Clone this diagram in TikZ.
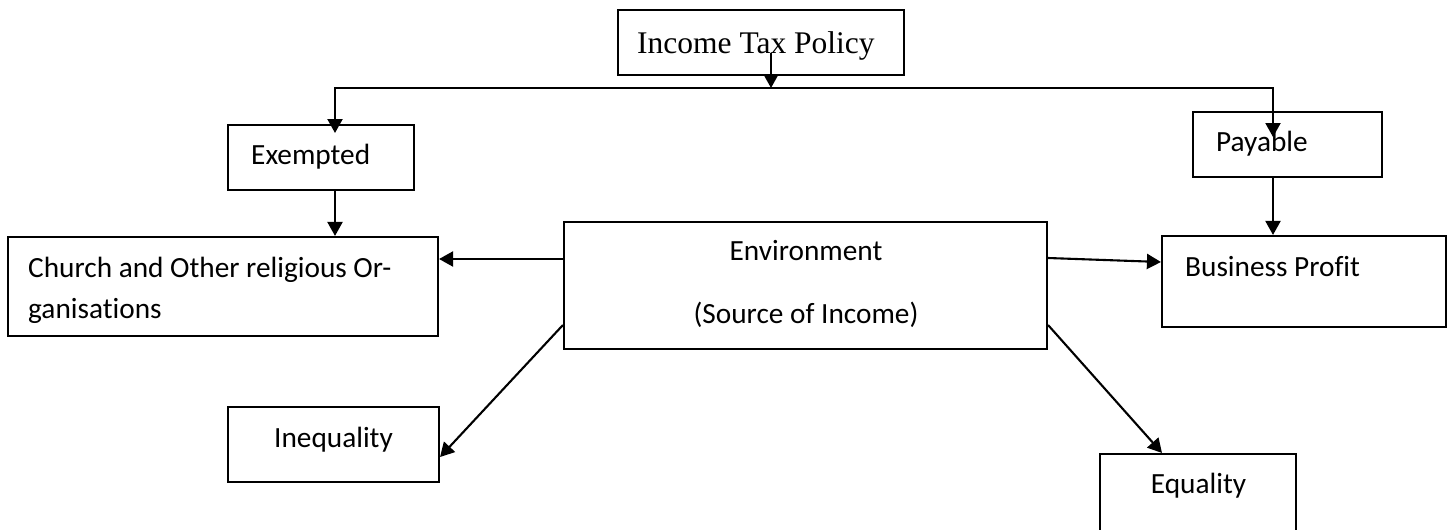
\documentclass[tikz,border=0pt]{standalone}
\usepackage{fontspec}
\setmainfont{Carlito}[Ligatures=NoCommon]
\newfontfamily\serifface{Liberation Serif}
\usetikzlibrary{arrows.meta}

\begin{document}
\begin{tikzpicture}[x=1pt,y=-1pt,
    box/.style={draw,line width=2.1pt,inner sep=0pt},
    txt/.style={inner sep=0pt,font=\fontsize{29.3pt}{35pt}\selectfont},
    arr/.style={line width=2.1pt,-{Triangle[length=14pt,width=15pt]}}]
      \useasboundingbox (0,0) rectangle (1449,530);
      \clip (0,0) rectangle (1449,530);
      %boxes
      \node[box,minimum width=286pt,minimum height=65pt] (tax) at (761,42.5) {};
      \node[box,minimum width=186pt,minimum height=65pt] (exempt) at (321,157.5) {};
      \node[box,minimum width=189pt,minimum height=65pt] (payable) at (1287.5,144.5) {};
      \node[box,minimum width=430pt,minimum height=99pt] (church) at (223,286.5) {};
      \node[box,minimum width=483pt,minimum height=127pt] (env) at (805.5,285.5) {};
      \node[box,minimum width=284pt,minimum height=91pt] (business) at (1304,281.5) {};
      \node[box,minimum width=211pt,minimum height=75pt] (inequal) at (333.5,444.5) {};
      \node[box,minimum width=196pt,minimum height=106pt] (equal) at (1198,507) {};
      %texts
      \node[txt,anchor=base west,font=\serifface\fontsize{31.5pt}{38pt}\selectfont] (taxtext) at (637,53) {Income Tax Policy};
      \node[txt,anchor=base west] (exempttext) at (251,164) {Exempted};
      \node[txt,anchor=base west] (payabletext) at (1216,151) {Payable};
      \node[txt,anchor=base west] (churchtexta) at (28,277) {Church and Other religious Or-};
      \node[txt,anchor=base west] (churchtextb) at (28,318) {ganisations};
      \node[txt,anchor=base] (envtexta) at (806,260) {Environment};
      \node[txt,anchor=base] (envtextb) at (806,323) {(Source of Income)};
      \node[txt,anchor=base west] (businesstext) at (1185,276) {Business Profit};
      \node[txt,anchor=base] (inequaltext) at (333.5,447) {Inequality};
      \node[txt,anchor=base] (equaltext) at (1198.5,493) {Equality};
      %arrows
      \coordinate (taxin) at (771,53);
      \coordinate (split) at (771,88);
      \coordinate (exin) at (335,133);
      \coordinate (payin) at (1273,137);
      \draw[arr] (taxin) -- (split);
      \draw[arr] (split) -| (exin);
      \draw[arr] (split) -| (payin);
      \draw[arr] (exin |- exempt.south) -- (exin |- church.north);
      \draw[arr] (payin |- payable.south) -- (payin |- business.north);
      \draw[arr] ([yshift=26.5pt]env.west) -- ([yshift=26.5pt]env.west -| church.east);
      \draw[arr] ([yshift=27.5pt]env.east) -- ([yshift=19.5pt]business.west);
      \draw[arr] ([yshift=-39.5pt]env.west) -- ([yshift=-12.5pt]inequal.east);
      \draw[arr] ([yshift=-39.5pt]env.east) -- ([xshift=-36pt]equal.north);
\end{tikzpicture}
\end{document}
